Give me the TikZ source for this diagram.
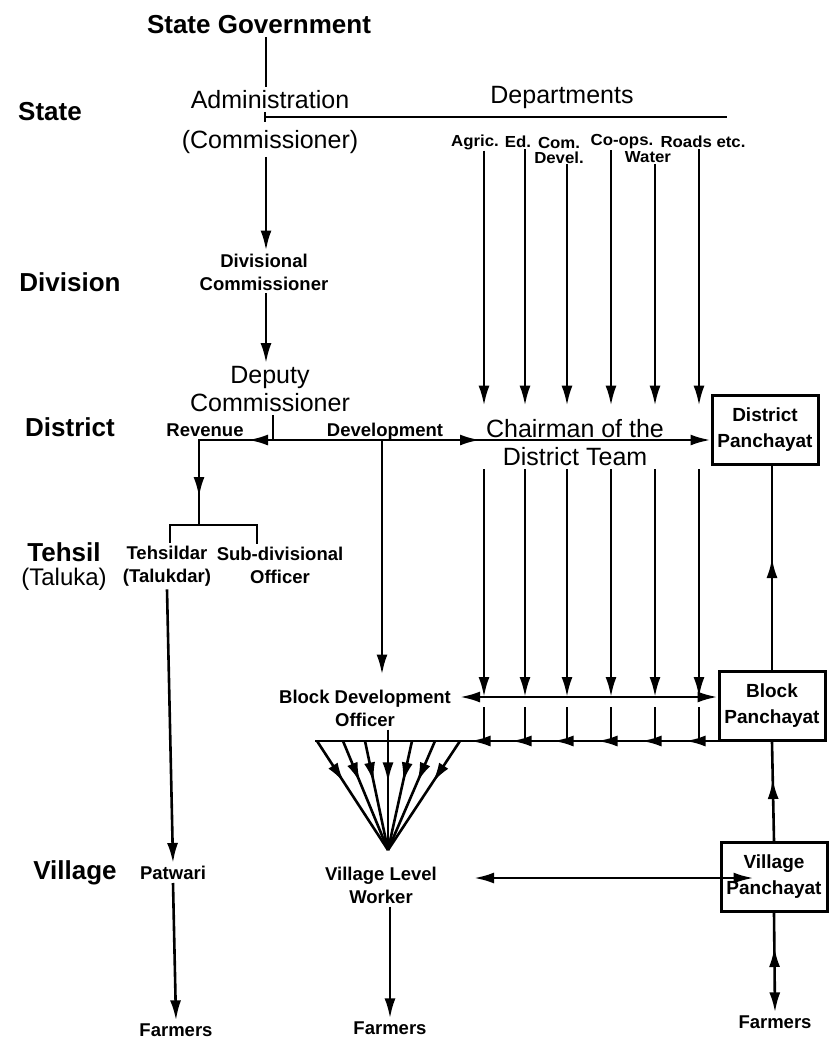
\documentclass[tikz,border=0pt]{standalone}
\usepackage{fontspec}
\setmainfont{Liberation Sans}
\newfontfamily\deptfont[FakeStretch=1.05]{Liberation Sans}
\usepackage{tikz}
\usetikzlibrary{calc,arrows.meta}
\usetikzlibrary{decorations.markings}

\tikzset{
  >={Latex[length=20pt,width=11pt]},
  conn/.style={line width=2.6pt},
  tier/.style={font=\fontsize{26}{30}\selectfont\bfseries, inner sep=3pt, align=center},
  bigtxt/.style={font=\fontsize{25}{28}\selectfont, inner sep=3pt, align=center},
  lbl/.style={font=\fontsize{18.5}{23}\selectfont\bfseries, inner sep=3pt, align=center},
  dept/.style={font=\deptfont\bfseries\fontsize{16}{15}\selectfont, inner sep=1pt, align=center},
  panbox/.style={draw, line width=3pt, minimum width=106pt, minimum height=69pt,
    align=center, font=\fontsize{19}{26}\selectfont\bfseries},
  midarrow/.style={postaction={decorate},
    decoration={markings, mark=at position #1 with {\arrow{>}}}},
  backmark/.style={postaction={decorate},
    decoration={markings, mark=at position #1 with {\arrowreversed{>}}}},
  leftmarks/.style={postaction={decorate},
    decoration={markings,
      mark=at position 32pt with {\arrow{>}},
      mark=at position 76pt with {\arrow{>}},
      mark=at position 120pt with {\arrow{>}},
      mark=at position 164pt with {\arrow{>}},
      mark=at position 206pt with {\arrow{>}},
      mark=at position 247pt with {\arrow{>}}}},
}

\begin{document}
\begin{tikzpicture}[x=1pt,y=-1pt]
  \useasboundingbox (0,0) rectangle (831,1054);

  % levels on the left
  \node[tier] (state) at (50,112) {State};
  \node[tier] (division) at (70,282) {Division};
  \node[tier] (district) at (70,427) {District};
  \node[tier] (tehsil) at (64,567) {Tehsil\\[-6pt]{\fontsize{24}{28}\selectfont\mdseries(Taluka)}};
  \node[tier] (village) at (75,873) {Village};

  % state
  \node[tier] (stategov) at (259,25) {State Government};
  \node[bigtxt] (admin) at (270,122) {Administration\\[12pt](Commissioner)};
  \node[bigtxt] (depts) at (562,97) {Departments};
  \node[dept] (agric) at (475,142) {Agric.};
  \node[dept] (ed) at (518,142) {Ed.};
  \node[dept] (comdev) at (559,150) {Com.\\Devel.};
  \node[dept] (coops) at (622,142) {Co-ops.};
  \node[dept] (water) at (648,157) {Water};
  \node[dept] (roads) at (703,142) {Roads etc.};

  % division and district
  \node[lbl] (divcomm) at (264,272) {Divisional\\Commissioner};
  \node[bigtxt] (depcomm) at (270,389) {Deputy\\Commissioner};
  \node[lbl] (revenue) at (205,430) {Revenue};
  \node[lbl] (devt) at (385,432) {Development};
  \node[bigtxt] (chair) at (575,443) {Chairman of the\\District Team};
  \node[panbox] (dpan) at (765,430) {District\\Panchayat};

  % tehsil and block
  \node[lbl] (tehsildar) at (167,566) {Tehsildar\\(Talukdar)};
  \node[lbl] (subdiv) at (280,565) {Sub-divisional\\Officer};
  \node[lbl] (bdo) at (365,708) {Block Development\\Officer};
  \node[panbox] (bpan) at (772,706) {Block\\Panchayat};

  % village
  \node[lbl] (patwari) at (173,873) {Patwari};
  \node[lbl] (vlw) at (381,885) {Village Level\\Worker};
  \node[panbox] (vpan) at (774,877) {Village\\Panchayat};
  \node[lbl] (farmersA) at (176,1030) {Farmers};
  \node[lbl] (farmersB) at (390,1028) {Farmers};
  \node[lbl] (farmersC) at (775,1022) {Farmers};

  % junctions
  \coordinate (spine) at (266,0);
  \coordinate (deptL) at (265,117);
  \coordinate (deptR) at (727,117);
  \coordinate (dpl) at (273,440);
  \coordinate (revc) at (199,440);
  \coordinate (brk) at (199,525);
  \coordinate (dvj) at (382,440);
  \coordinate (bl) at (460,697);
  \coordinate (lowL) at (315,741);
  \coordinate (apex) at (388,850);
  \foreach \c/\x in {1/484,2/525,3/567,4/611,5/655,6/699}
    \coordinate (col\c) at (\x,0);

  % administration line
  \draw[conn] (spine |- stategov.south) -- (spine |- admin.north);
  \draw[conn] ([yshift=5pt]deptL) -- ([yshift=-5pt]deptL);
  \draw[conn] (deptL) -- (deptR);
  \draw[conn,->] (spine |- admin.south) -- (spine |- divcomm.north);
  \draw[conn,->] (spine |- divcomm.south) -- (spine |- depcomm.north);
  \draw[conn] (dpl |- depcomm.south) -- (dpl);
  \draw[conn, postaction={decorate},
    decoration={markings, mark=at position 25pt with {\arrow{>}},
      mark=at position 131pt with {\arrow{>}}}] (dpl) -- (revc) -- (brk);
  \draw[conn] ([xshift=3pt]tehsildar.north) |- (brk) -| ([xshift=-23pt]subdiv.north);
  \draw[conn,->,midarrow=207pt] (dpl) -- (dpl -| dpan.west);
  \draw[conn,->,shorten >=12pt] (dvj) -- (dvj |- bdo.north);

  % departments
  \foreach \c/\t in {1/agric,2/ed,3/comdev,4/coops,5/water,6/roads}
    \draw[conn,->,shorten >=11pt] (col\c |- \t.south) -- (col\c |- chair.north);
  \foreach \c in {1,...,6} {
    \draw[conn,->] (col\c |- chair.south) -- (col\c |- bl);
    \draw[conn] ([yshift=-10pt]col\c |- bl) -- (col\c |- lowL);
  }
  \draw[conn,<->] (bl) -- (bl -| bpan.west);
  \draw[conn,leftmarks] (lowL -| bpan.west) -- (lowL);

  % fan to the village level worker
  \draw[conn] (apex |- bdo.south) -- (apex |- lowL);
  \foreach \x in {317,343,365,388,412,435,460}
    \draw[conn,midarrow=0.38] (\x,0 |- lowL) -- (apex);

  % down to the farmers
  \draw[conn,->] (tehsildar.south) -- (patwari.north);
  \draw[conn,->] (patwari.south) -- (farmersA.north);
  \draw[conn,->] (farmersB.north |- vlw.south) -- (farmersB.north);
  \draw[conn,<->] ([xshift=34pt,yshift=7pt]vlw.east) -- ([xshift=34pt,yshift=7pt]vlw.east -| vpan.west);

  % panchayats
  \draw[conn,midarrow=62pt] (vpan.north) -- (bpan.south);
  \draw[conn,midarrow=112pt] (bpan.north) -- (bpan.north |- dpan.south);
  \draw[conn,->,backmark=34pt] (vpan.south) -- (farmersC.north);
\end{tikzpicture}
\end{document}
